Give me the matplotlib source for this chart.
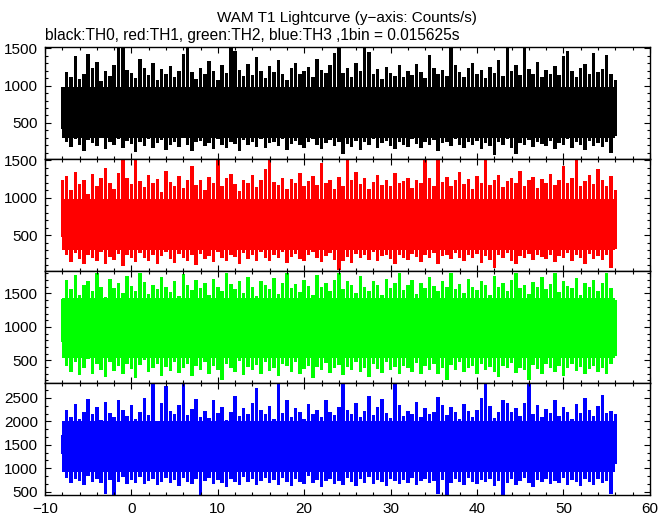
import numpy as np
import matplotlib
matplotlib.use("Agg")
import matplotlib.pyplot as plt
from matplotlib.ticker import MultipleLocator

plt.rcParams["font.family"] = ["Liberation Sans", "DejaVu Sans"]

# WAM T1 lightcurve, read off the plot as the upper / lower envelope every 0.5 s
# (counts/s), first sample at t = -8 s
T0, DT = -8.0, 0.5

th0_hi = [980, 1180, 1120, 1390, 1090, 1160, 1420, 1230, 1310, 1060, 1200, 1130, 1280, 1500, 1500, 1210,
          1170, 1100, 1360, 1240, 1140, 1300, 1080, 1220, 1160, 1260, 1110, 1190, 1420, 1500, 1180, 1090,
          1240, 1150, 1330, 1200, 1070, 1270, 1170, 1500, 1460, 1210, 1130, 1290, 1140, 1380, 1190, 1100,
          1260, 1180, 1340, 1160, 1080, 1230, 1300, 1150, 1200, 1250, 1110, 1360, 1210, 1170, 1280, 1430,
          1500, 1170, 1240, 1120, 1300, 1190, 1500, 1450, 1150, 1220, 1090, 1250, 1170, 1130, 1280, 1110,
          1200, 1140, 1290, 1180, 1100, 1410, 1240, 1160, 1210, 1130, 1500, 1270, 1180, 1120, 1230, 1300,
          1150, 1210, 1100, 1250, 1170, 1340, 1130, 1500, 1200, 1280, 1140, 1500, 1220, 1160, 1310, 1120,
          1210, 1160, 1260, 1140, 1390, 1460, 1200, 1110, 1240, 1290, 1150, 1440, 1180, 1220, 1410, 1150,
          1080]
th0_lo = [420, 250, 180, 290, 210, 130, 270, 230, 190, 300, 150, 240, 200, 280, 170, 260,
          220, 110, 250, 190, 290, 160, 230, 270, 140, 210, 250, 180, 300, 200, 120, 240,
          260, 190, 230, 150, 280, 210, 170, 250, 220, 130, 270, 200, 240, 180, 290, 160,
          230, 250, 190, 280, 140, 220, 260, 200, 170, 240, 290, 210, 150, 230, 270, 190,
          250, 80, 220, 180, 260, 140, 240, 200, 290, 170, 230, 260, 190, 150, 250, 210,
          180, 280, 220, 160, 240, 200, 270, 130, 230, 250, 190, 280, 210, 170, 240, 200,
          260, 150, 230, 190, 70, 250, 210, 280, 160, 90, 230, 200, 270, 180, 240, 220,
          190, 260, 150, 230, 200, 280, 170, 240, 210, 140, 260, 190, 230, 180, 250, 100,
          330]

th1_hi = [1230, 1290, 1100, 1350, 1180, 1240, 1050, 1320, 1150, 1270, 1400, 1200, 1120, 1330, 1500, 1260,
          1180, 1500, 1220, 1140, 1300, 1190, 1250, 1080, 1360, 1210, 1160, 1290, 1130, 1240, 1420, 1170,
          1230, 1100, 1280, 1200, 1500, 1150, 1260, 1320, 1180, 1090, 1240, 1190, 1300, 1140, 1230, 1380,
          1500, 1210, 1170, 1270, 1120, 1250, 1190, 1330, 1150, 1220, 1290, 1170, 1460, 1200, 1240, 1110,
          1280, 1160, 1500, 1230, 1350, 1180, 1260, 1120, 1210, 1300, 1170, 1240, 1150, 1330, 1190, 1220,
          1270, 1130, 1240, 1190, 1500, 1260, 1160, 1540, 1210, 1280, 1150, 1230, 1340, 1180, 1250, 1120,
          1290, 1200, 1500, 1170, 1240, 1310, 1140, 1220, 1270, 1190, 1360, 1160, 1230, 1280, 1130, 1250,
          1200, 1320, 1170, 1240, 1430, 1190, 1260, 1500, 1150, 1220, 1300, 1180, 1380, 1240, 1160, 1290,
          1100]
th1_lo = [470, 230, 140, 260, 180, 110, 240, 200, 150, 280, 120, 210, 170, 250, 90, 230,
          190, 140, 260, 200, 160, 240, 110, 220, 270, 180, 130, 250, 200, 160, 230, 100,
          250, 180, 220, 140, 270, 190, 160, 240, 210, 120, 260, 180, 230, 150, 270, 200,
          160, 240, 190, 270, 130, 210, 250, 180, 150, 230, 280, 190, 140, 220, 260, 170,
          40, 160, 210, 130, 250, 190, 230, 170, 280, 150, 220, 240, 180, 120, 230, 200,
          170, 250, 210, 140, 230, 190, 260, 120, 220, 240, 180, 260, 200, 150, 230, 190,
          250, 130, 220, 170, 60, 240, 200, 260, 150, 120, 220, 190, 250, 170, 230, 210,
          180, 240, 140, 220, 190, 260, 160, 230, 200, 110, 250, 180, 220, 170, 240, 60,
          320]

th2_hi = [1420, 1700, 1560, 1780, 1480, 1620, 1690, 1530, 1800, 1600, 1450, 1720, 1580, 1650, 1500, 1760,
          1610, 1540, 1800, 1670, 1490, 1630, 1560, 1740, 1600, 1520, 1680, 1460, 1790, 1620, 1550, 1700,
          1580, 1650, 1480, 1720, 1600, 1530, 1800, 1640, 1570, 1690, 1510, 1750, 1600, 1460, 1680, 1620,
          1560, 1730, 1490, 1660, 1800, 1580, 1640, 1520, 1700, 1610, 1470, 1780, 1590, 1650, 1540, 1700,
          1800, 1560, 1680, 1620, 1500, 1760, 1600, 1540, 1690, 1630, 1480, 1720, 1580, 1660, 1800, 1550,
          1620, 1700, 1490, 1650, 1580, 1740, 1610, 1530, 1680, 1600, 1800, 1570, 1640, 1510, 1720, 1600,
          1550, 1690, 1620, 1480, 1760, 1590, 1650, 1530, 1700, 1800, 1580, 1620, 1490, 1670, 1600, 1740,
          1560, 1640, 1800, 1520, 1690, 1610, 1580, 1730, 1470, 1650, 1600, 1700, 1540, 1660, 1800, 1580,
          1400]
th2_lo = [780, 420, 330, 470, 280, 390, 520, 300, 440, 360, 250, 480, 340, 410, 290, 450,
          370, 230, 430, 500, 320, 380, 450, 270, 400, 340, 480, 310, 390, 440, 260, 410,
          360, 470, 300, 420, 350, 210, 450, 380, 320, 490, 280, 400, 360, 430, 300, 470,
          340, 390, 260, 450, 410, 330, 480, 300, 370, 420, 240, 400, 350, 460, 310, 380,
          430, 280, 400, 360, 470, 320, 390, 250, 440, 370, 310, 480, 350, 400, 290, 420,
          380, 330, 460, 290, 410, 360, 440, 300, 390, 200, 430, 350, 470, 320, 380, 410,
          290, 450, 360, 400, 330, 250, 420, 380, 460, 310, 390, 350, 200, 430, 370, 300,
          440, 380, 320, 410, 270, 390, 450, 340, 400, 290, 370, 420, 330, 390, 300, 440,
          560]

th3_hi = [1700, 2250, 2100, 2380, 2050, 2200, 2480, 2150, 2300, 2020, 2420, 2180, 2090, 2450, 2250, 2120,
          2340, 2060, 2200, 2500, 2130, 2790, 2010, 2400, 2750, 2220, 2160, 2350, 2810, 2140, 2260, 2480,
          2100, 2230, 2070, 2460, 2180, 2300, 2040, 2200, 2550, 2120, 2280, 2160, 2390, 2720, 2240, 2150,
          2330, 2050, 2790, 2170, 2460, 2100, 2290, 2190, 2060, 2380, 2160, 2240, 2090, 2450, 2200, 2130,
          2310, 2800, 2250, 2160, 2400, 2100, 2220, 2550, 2140, 2300, 2480, 2180, 2070, 2810, 2350, 2120,
          2230, 2160, 2420, 2090, 2280, 2150, 2200, 2520, 2340, 2130, 2300, 2190, 2060, 2380, 2220, 2100,
          2250, 2500, 2800, 2330, 2080, 2210, 2450, 2390, 2190, 2290, 2120, 2400, 2790, 2160, 2350, 2090,
          2260, 2180, 2450, 2110, 2300, 2200, 2060, 2380, 2170, 2490, 2240, 2120, 2330, 2560, 2180, 2220,
          2150]
th3_lo = [1300, 800, 690, 760, 720, 650, 830, 700, 780, 680, 440, 740, 430, 700, 810, 670,
          750, 690, 820, 660, 730, 780, 640, 710, 800, 680, 750, 620, 790, 700, 660, 770,
          430, 720, 800, 670, 740, 690, 610, 780, 710, 650, 820, 700, 760, 640, 730, 790,
          680, 740, 650, 800, 700, 620, 770, 710, 660, 830, 690, 740, 600, 720, 780, 670,
          730, 650, 790, 700, 620, 760, 690, 810, 660, 740, 700, 630, 780, 720, 670, 750,
          690, 800, 650, 730, 770, 680, 720, 440, 750, 430, 690, 760, 700, 640, 790, 710,
          660, 740, 700, 780, 620, 720, 430, 690, 760, 650, 730, 800, 680, 610, 750, 700,
          770, 660, 720, 690, 800, 640, 740, 700, 620, 780, 710, 650, 760, 690, 720, 440,
          1100]

# level range that is filled solid in every pixel column (counts/s)
core_lo = [300, 300, 530, 920]
core_hi = [980, 980, 1430, 2000]

colors = ["black", "#ff0000", "#00ff00", "#0000ff"]
ylims = [(12, 1511), (15, 1512), (155, 1830), (420, 2810)]
minor_step = [100, 100, 100, 500 / 3]

series = [(th0_hi, th0_lo), (th1_hi, th1_lo), (th2_hi, th2_lo), (th3_hi, th3_lo)]

fig = plt.figure(figsize=(6.72, 5.15), dpi=100)
gs = fig.add_gridspec(4, 1, left=0.067, right=0.967, top=0.908, bottom=0.038, hspace=0)
axes = [fig.add_subplot(gs[i]) for i in range(4)]

for i, (ax, (hi, lo)) in enumerate(zip(axes, series)):
    t = T0 + DT * np.arange(len(hi))
    ax.fill_between([t[0], t[-1]], core_lo[i], core_hi[i], color=colors[i], lw=0)
    ax.bar(t, np.subtract(hi, lo), bottom=lo, width=0.4, color=colors[i], lw=0)
    ax.set_xlim(-10, 60)
    ax.set_ylim(*ylims[i])
    ax.xaxis.set_major_locator(MultipleLocator(10))
    ax.xaxis.set_minor_locator(MultipleLocator(2))
    ax.yaxis.set_major_locator(MultipleLocator(500))
    ax.yaxis.set_minor_locator(MultipleLocator(minor_step[i]))
    ax.tick_params(which="both", direction="in", top=True, right=True, width=0.8,
                   labelsize=11, color="black")
    ax.tick_params(which="major", length=4.2, pad=5)
    ax.tick_params(which="minor", length=2.2)
    for s in ax.spines.values():
        s.set_linewidth(1.0)
        s.set_zorder(3)
    if i < 3:
        ax.tick_params(labelbottom=False)

fig.text(0.517, 0.965, "WAM T1 Lightcurve (y\u2212axis: Counts/s)", ha="center", va="center", fontsize=11)
fig.text(0.067, 0.932, "black:TH0, red:TH1, green:TH2, blue:TH3 ,1bin = 0.015625s",
         ha="left", va="center", fontsize=11.2)

fig.savefig("out.png", dpi=100)
